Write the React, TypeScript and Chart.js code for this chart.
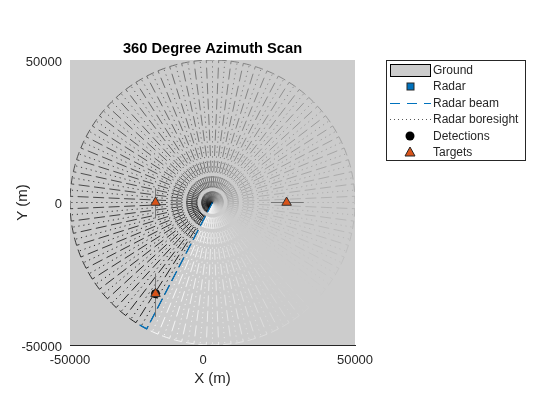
import React, { useEffect, useRef } from "react";
import { Chart, registerables } from "chart.js";

Chart.register(...registerables);

const axisLimits = [-50000, 50000];
const yTickValues = [-50000, 0, 50000];
const xTickValues = [-50000, -3300, 50000];
const xTickLabels = ["-50000", "0", "50000"];
const beamRange = 50000;
const beamEdgeOffsets = [2.5, 1.25, 0, -1.25, -2.5];

const beamAzimuths = [
  245, 250, 255, 260, 265, 270, 275, 280, 285, 290, 295, 300, 305, 310, 315, 320, 325, 330,
  335, 340, 345, 350, 355, 0, 5, 10, 15, 20, 25, 30, 35, 40, 45, 50, 55, 60, 65, 70, 75, 80,
  85, 90, 95, 100, 105, 110, 115, 120, 125, 130, 135, 140, 145, 150, 155, 160, 165, 170, 175,
  180, 185, 190, 195, 200, 205, 210, 215, 220, 225, 230, 235, 240,
];
const beamGray = [
  255, 251, 248, 244, 241, 237, 233, 230, 226, 223, 219, 215, 212, 208, 204, 201, 197, 194,
  190, 186, 183, 179, 176, 172, 168, 165, 161, 158, 154, 151, 147, 144, 140, 136, 133, 129,
  126, 122, 118, 115, 111, 108, 104, 100, 97, 93, 90, 86, 83, 79, 75, 72, 68, 65, 61, 57, 54,
  50, 47, 43, 39, 36, 32, 29, 25, 22, 18, 14, 11, 7, 4, 0,
];
const currentBeamEdges = [242.5, 241.25, 240, 238.75, 237.5];

const targetX = [-20000, 26000, -20000];
const targetY = [0, 0, -32000];
const detectionX = [-20000];
const detectionY = [-32000];
const spreadLineAX = [-20000, -20000];
const spreadLineAY = [5000, -5500];
const spreadLineBX = [20500, 32000];
const spreadLineBY = [0, 0];
const spreadLineCX = [-20000, -20000];
const spreadLineCY = [-25000, -40000];
const radarX = [0];
const radarY = [0];

const legendLabels = ["Ground", "Radar", "Radar beam", "Radar boresight", "Detections", "Targets"];

const GROUND = "#cccccc";
const BLUE = "#0072bd";
const ORANGE = "#d95319";
const INK = "#262626";
const FONT = "'Liberation Sans', Arial, sans-serif";

function polar(r: number, az: number) {
  const a = (az * Math.PI) / 180;
  return { x: r * Math.cos(a), y: r * Math.sin(a) };
}
function pairs(xs: number[], ys: number[]) {
  return xs.map((x, i) => ({ x, y: ys[i] }));
}

const legendPlugin = {
  id: "sideLegend",
  afterDraw(chart: any) {
    const c = chart.ctx;
    const left = 386, top = 60, right = 526, bottom = 161;
    const rowY = [70.5, 86.5, 103.5, 119.5, 136, 152];
    c.save();
    c.fillStyle = "#ffffff";
    c.strokeStyle = "#262626";
    c.lineWidth = 1;
    c.fillRect(left, top, right - left, bottom - top);
    c.strokeRect(left + 0.5, top + 0.5, right - left - 1, bottom - top - 1);
    c.fillStyle = GROUND;
    c.fillRect(390, 64.5, 40, 12);
    c.strokeStyle = "#000000";
    c.strokeRect(390.5, 64.5, 40, 12);
    c.fillStyle = BLUE;
    c.strokeStyle = "#262626";
    c.fillRect(407, rowY[1] - 3.5, 7, 7);
    c.strokeRect(407, rowY[1] - 3.5, 7, 7);
    c.strokeStyle = BLUE;
    c.lineWidth = 1.2;
    c.setLineDash([10, 7]);
    c.beginPath();
    c.moveTo(390, rowY[2]);
    c.lineTo(431, rowY[2]);
    c.stroke();
    c.lineWidth = 1;
    c.strokeStyle = "#555555";
    c.setLineDash([1, 3]);
    c.beginPath();
    c.moveTo(390, rowY[3]);
    c.lineTo(431, rowY[3]);
    c.stroke();
    c.setLineDash([]);
    c.fillStyle = "#000000";
    c.beginPath();
    c.arc(410, rowY[4], 4.5, 0, Math.PI * 2);
    c.fill();
    c.fillStyle = ORANGE;
    c.strokeStyle = "#262626";
    c.beginPath();
    c.moveTo(410, rowY[5] - 5);
    c.lineTo(415, rowY[5] + 4);
    c.lineTo(405, rowY[5] + 4);
    c.closePath();
    c.fill();
    c.stroke();
    c.fillStyle = INK;
    c.font = `12px ${FONT}`;
    c.textAlign = "left";
    c.textBaseline = "middle";
    legendLabels.forEach((t, i) => c.fillText(t, 433, rowY[i] + 0.5));
    c.restore();
  },
};

export default function App() {
  const ref = useRef<HTMLCanvasElement>(null);
  useEffect(() => {
    const n = beamAzimuths.length;
    const beamSets: any[] = [];
    beamAzimuths.forEach((az, i) => {
      const col = `rgb(${beamGray[i]},${beamGray[i]},${beamGray[i]})`;
      const outline = [{ x: 0, y: 0 }, ...beamEdgeOffsets.map((o) => polar(beamRange, az + o))];
      beamSets.push({
        label: "Radar beam",
        data: outline,
        showLine: true,
        borderColor: col,
        borderWidth: 0.85,
        borderDash: [11, 4.5],
        pointRadius: 0,
        order: 20 + (n - i) * 2,
      });
      beamSets.push({
        label: "Radar boresight",
        data: [{ x: 0, y: 0 }, polar(beamRange, az)],
        showLine: true,
        borderColor: col,
        borderWidth: 0.9,
        borderDash: [1.2, 3.8],
        pointRadius: 0,
        order: 19 + (n - i) * 2,
      });
    });
    const spread = (xs: number[], ys: number[], order: number) => ({
      label: "Detection spread",
      data: pairs(xs, ys),
      showLine: true,
      borderColor: "#777777",
      borderWidth: 1,
      pointRadius: 0,
      order,
    });
    const chart = new Chart(ref.current as HTMLCanvasElement, {
      type: "scatter",
      data: {
        datasets: [
          {
            label: "Ground",
            data: pairs(axisLimits, [50000, 50000]),
            showLine: true,
            borderWidth: 0,
            backgroundColor: GROUND,
            fill: "start",
            pointRadius: 0,
            order: 1000,
          },
          {
            label: "Radar",
            data: pairs(radarX, radarY),
            pointStyle: "rect",
            pointRadius: 3,
            backgroundColor: BLUE,
            borderColor: "#262626",
            order: 900,
          },
          ...beamSets,
          {
            label: "Radar beam (current)",
            data: [{ x: 0, y: 0 }, ...currentBeamEdges.map((a) => polar(beamRange, a))],
            showLine: true,
            borderColor: BLUE,
            borderWidth: 1.3,
            borderDash: [11, 4.5],
            pointRadius: 0,
            order: 10,
          },
          spread(spreadLineAX, spreadLineAY, 5),
          spread(spreadLineBX, spreadLineBY, 5),
          spread(spreadLineCX, spreadLineCY, 5),
          {
            label: "Detections",
            data: pairs(detectionX, detectionY),
            pointStyle: "circle",
            pointRadius: 4,
            backgroundColor: "#000000",
            borderColor: "#000000",
            order: 2,
          },
          {
            label: "Targets",
            data: pairs(targetX, targetY),
            pointStyle: "triangle",
            pointRadius: 5.5,
            borderWidth: 1,
            backgroundColor: ORANGE,
            borderColor: "#333333",
            order: 1,
          },
        ] as any,
      },
      options: {
        animation: false,
        responsive: false,
        devicePixelRatio: 1,
        layout: { padding: { left: 0, right: 205, top: 0, bottom: 0 } },
        plugins: {
          legend: { display: false },
          tooltip: { enabled: false },
          title: {
            display: true,
            text: "360 Degree Azimuth Scan",
            color: "#000000",
            fullSize: false,
            font: { family: FONT, size: 14.67, weight: "bold" },
            padding: { top: 40, bottom: 2.4 },
          },
        },
        scales: {
          x: {
            type: "linear",
            min: axisLimits[0],
            max: axisLimits[1],
            grid: { display: false, drawTicks: false },
            border: { display: true, color: "#262626", width: 1 },
            afterBuildTicks: (s: any) => {
              s.ticks = xTickValues.map((value) => ({ value }));
            },
            afterFit: (s: any) => {
              s.height = 75;
            },
            ticks: {
              autoSkip: false,
              maxRotation: 0,
              padding: 8,
              color: INK,
              font: { family: FONT, size: 13 },
              callback: (_v: any, i: number) => xTickLabels[i],
            },
            title: {
              display: true,
              text: "X (m)",
              color: INK,
              font: { family: FONT, size: 15 },
              padding: { top: 3, bottom: 32 },
            },
          },
          y: {
            type: "linear",
            min: axisLimits[0],
            max: axisLimits[1],
            grid: { display: false, drawTicks: false },
            border: { display: false },
            afterBuildTicks: (s: any) => {
              s.ticks = yTickValues.map((value) => ({ value }));
            },
            afterFit: (s: any) => {
              s.width = 70;
            },
            ticks: {
              autoSkip: false,
              padding: 8,
              labelOffset: 2,
              color: INK,
              font: { family: FONT, size: 13 },
              callback: (v: any) => String(v),
            },
            title: {
              display: true,
              text: "Y (m)",
              color: INK,
              font: { family: FONT, size: 15 },
              padding: { top: 14, bottom: 0 },
            },
          },
        },
      } as any,
      plugins: [legendPlugin],
    });
    return () => chart.destroy();
  }, []);
  return (
    <canvas
      ref={ref}
      width={560}
      height={420}
      style={{ position: "fixed", left: 0, top: 0, width: 560, height: 420, display: "block" }}
    />
  );
}
